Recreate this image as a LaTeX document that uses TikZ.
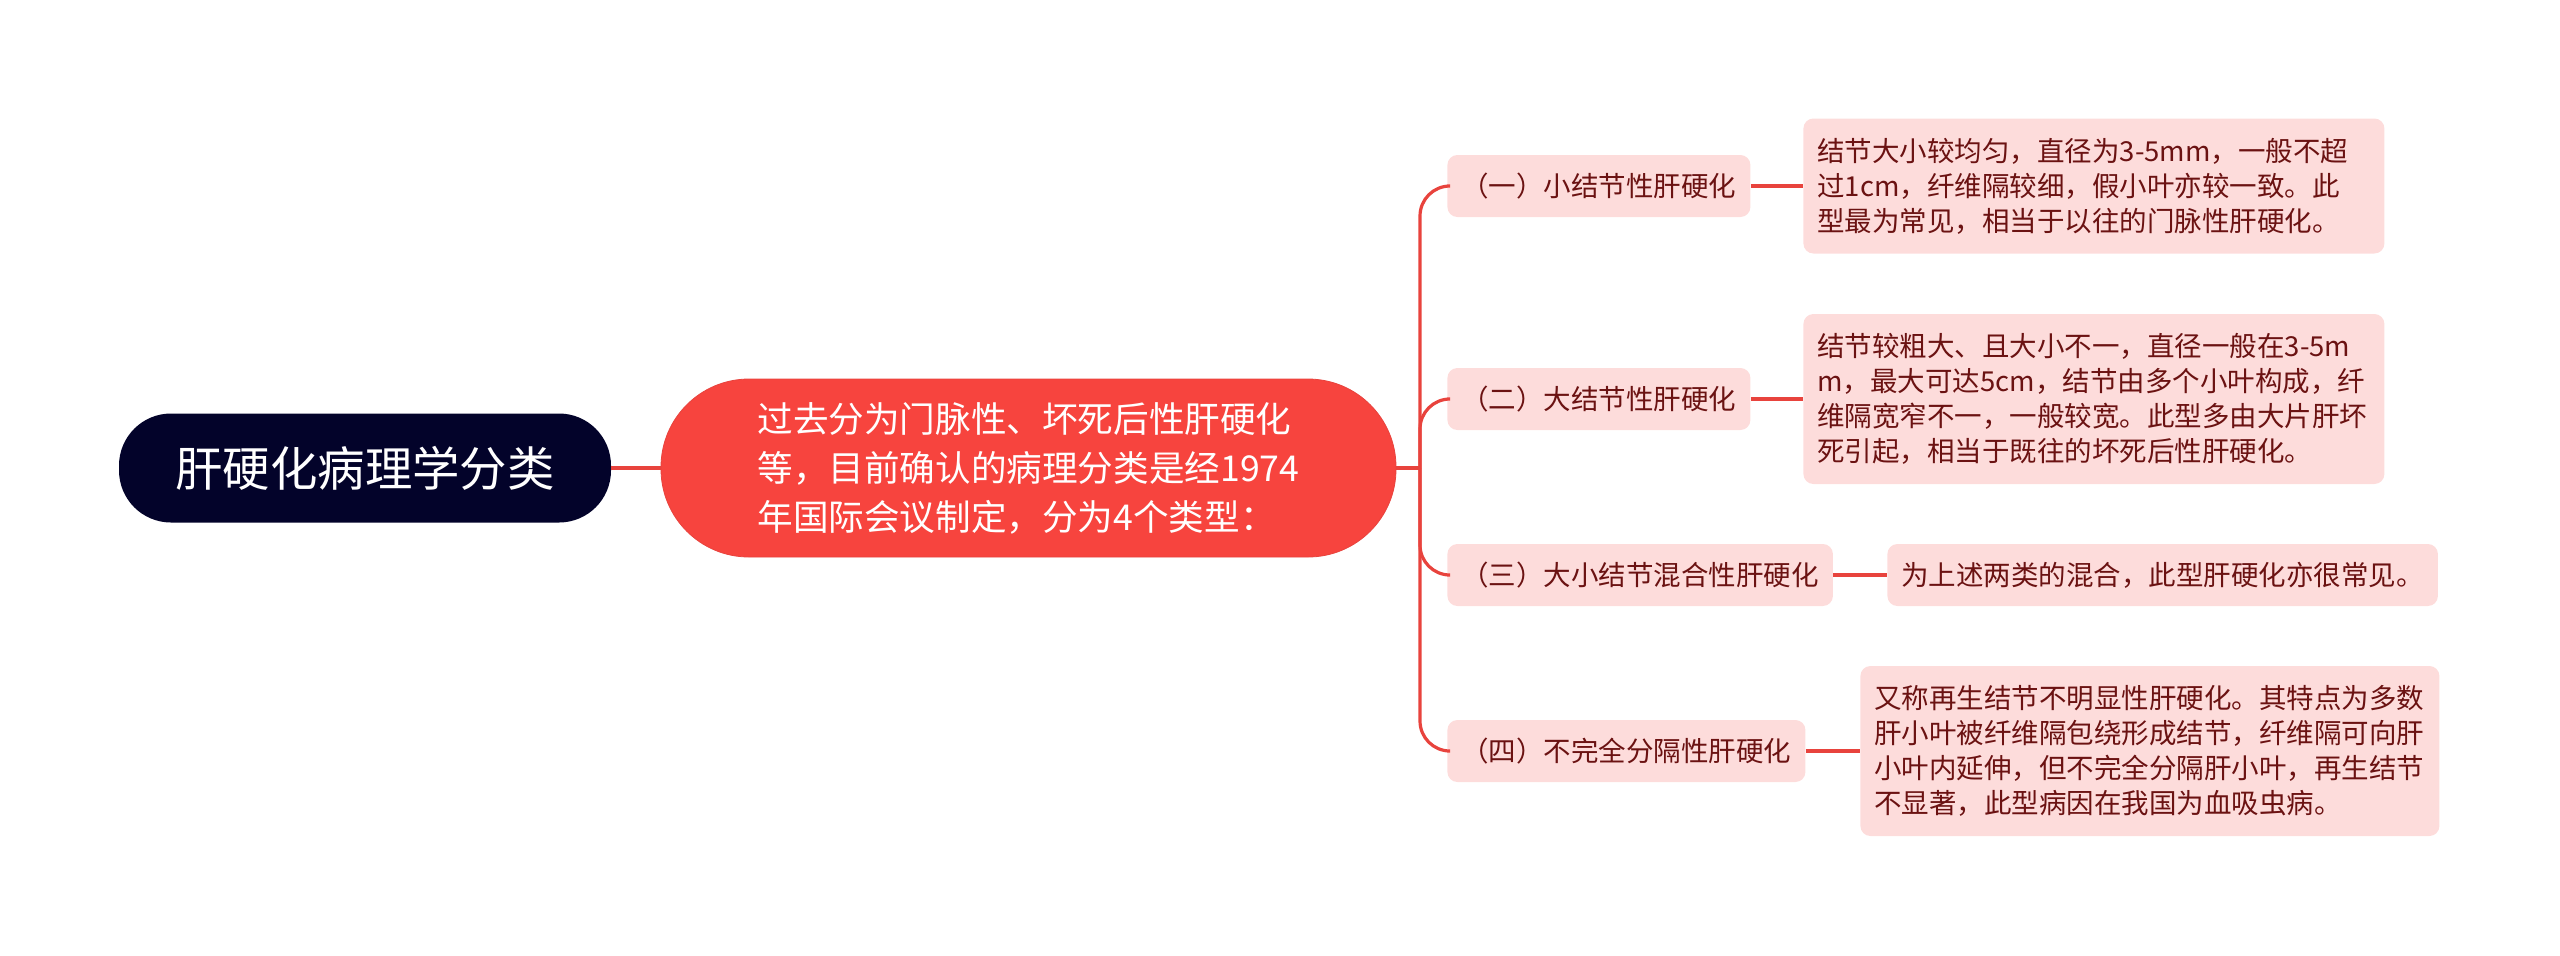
\documentclass[tikz,border=0pt]{standalone}
\usepackage{fontspec}
\setmainfont{Noto Sans CJK SC}
\usetikzlibrary{calc}

\definecolor{rootblue}{HTML}{03032A}
\definecolor{mainred}{HTML}{F7443E}
\definecolor{linered}{HTML}{E8433D}
\definecolor{leafpink}{HTML}{FDDCDB}
\definecolor{leaftext}{HTML}{6B1212}

\begin{document}
\begin{tikzpicture}[x=0.5pt,y=-0.5pt,
  rootnode/.style={fill=rootblue,text=white,rounded corners=26pt,minimum width=246pt,minimum height=54.5pt,font=\fontsize{23.7pt}{28pt}\selectfont},
  mainnode/.style={fill=mainred,draw=linered,text=white,rounded corners=44pt,minimum width=367.5pt,minimum height=89pt,align=left,font=\fontsize{17.8pt}{24.5pt}\selectfont},
  typenode/.style={anchor=west,fill=leafpink,text=leaftext,rounded corners=5pt,minimum height=31pt,inner xsep=7pt,font=\fontsize{13.75pt}{17.5pt}\selectfont},
  leafnode/.style={anchor=west,fill=leafpink,text=leaftext,rounded corners=5pt,inner xsep=7pt,align=left,font=\fontsize{13.75pt}{17.5pt}\selectfont},
  link/.style={draw=linered,line width=1.6pt}]
\useasboundingbox (0,0) rectangle (2560,955);
\node[rootnode] (root) at (365,468) {肝硬化病理学分类};
\node[mainnode] (main) at (1028.5,468) {过去分为门脉性、坏死后性肝硬化\\等，目前确认的病理分类是经1974\\年国际会议制定，分为4个类型：};
\node[typenode] (t1) at (1447,186) {（一）小结节性肝硬化};
\node[typenode] (t2) at (1447,399) {（二）大结节性肝硬化};
\node[typenode] (t3) at (1447,575) {（三）大小结节混合性肝硬化};
\node[typenode] (t4) at (1447,751) {（四）不完全分隔性肝硬化};
\node[leafnode,text width=276.5pt,minimum height=67.5pt] (l1) at (1803,186) {结节大小较均匀，直径为3-5mm，一般不超\\过1cm，纤维隔较细，假小叶亦较一致。此\\型最为常见，相当于以往的门脉性肝硬化。};
\node[leafnode,text width=276.5pt,minimum height=85pt] (l2) at (1803,399) {结节较粗大、且大小不一，直径一般在3-5m\\m，最大可达5cm，结节由多个小叶构成，纤\\维隔宽窄不一，一般较宽。此型多由大片肝坏\\死引起，相当于既往的坏死后性肝硬化。};
\node[leafnode,minimum height=31pt] (l3) at (1887,575) {为上述两类的混合，此型肝硬化亦很常见。};
\node[leafnode,text width=275.5pt,minimum height=85pt] (l4) at (1860,751) {又称再生结节不明显性肝硬化。其特点为多数\\肝小叶被纤维隔包绕形成结节，纤维隔可向肝\\小叶内延伸，但不完全分隔肝小叶，再生结节\\不显著，此型病因在我国为血吸虫病。};
\coordinate (fork) at (1420,468);
\draw[link] (root.east) -- (main.west);
\draw[link] (main.east) -- (fork);
\foreach \n in {1,...,4}
  \draw[link,rounded corners=15pt] (fork) |- (t\n.west);
\foreach \n in {1,...,4}
  \draw[link,line width=2pt] (t\n.east) -- (t\n.east -| l\n.west);
\end{tikzpicture}
\end{document}
